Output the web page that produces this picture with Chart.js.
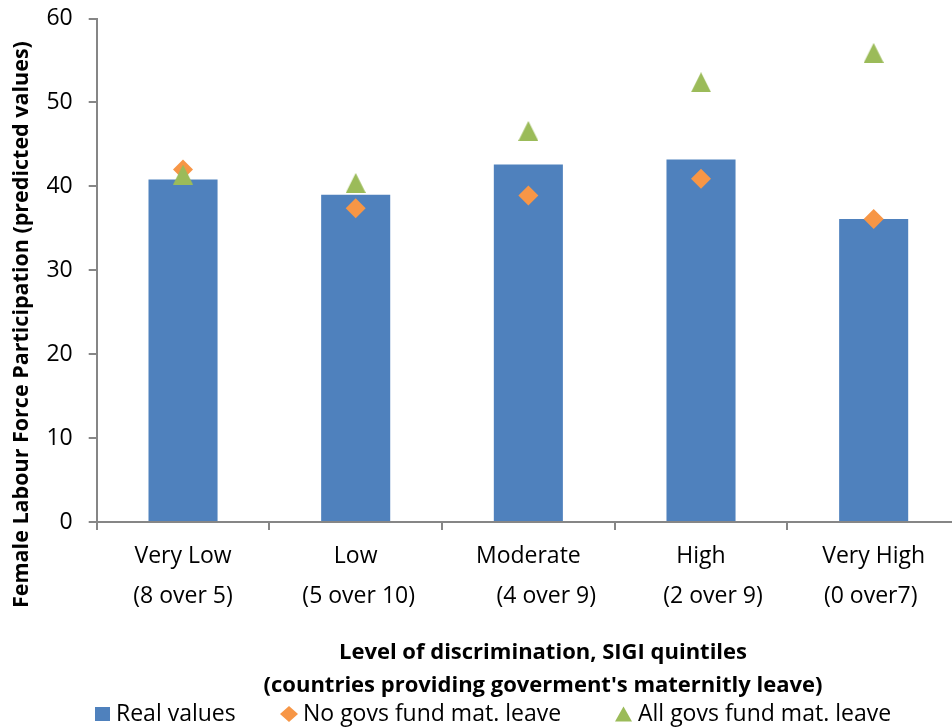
<!DOCTYPE html>
<html>
<head>
<meta charset="utf-8">
<script src="https://cdn.jsdelivr.net/npm/chart.js@4"></script>
<style>
  html, body { margin: 0; padding: 0; background: #fff; overflow: hidden; }
  #wrap { width: 952px; height: 728px; overflow: hidden; position: relative; }
  #c { position: absolute; left: 0; top: 0; }
</style>
</head>
<body>
<div id="wrap"><canvas id="c" width="970" height="728"></canvas></div>
<script>
// SIGI quintiles and the number of countries in each group
const categories = ['Very Low', 'Low', 'Moderate', 'High', 'Very High'];
const countryCounts = ['(8 over 5)', '(5 over 10)', '(4 over 9)', '(2 over 9)', '(0 over7)'];

// Female labour force participation, predicted values
const realValues = [40.8, 39.0, 42.6, 43.2, 36.1];
const noGovsFund = [42.0, 37.4, 38.9, 40.9, 36.1];
const allGovsFund = [41.4, 40.4, 46.6, 52.4, 55.9];

const yTicks = [0, 10, 20, 30, 40, 50, 60];
const seriesNames = ['Real values', 'No govs fund mat. leave', 'All govs fund mat. leave'];
const yTitle = 'Female Labour Force Participation (predicted values)';
const xTitle = ['Level of discrimination, SIGI quintiles', "(countries providing goverment's maternitly leave)"];

const BLUE = '#4F81BD', ORANGE = '#F79646', GREEN = '#9BBB59', AXIS = '#868686';
const FONT = '"Open Sans", sans-serif';

// spaces that nudge the second tick line sideways
const subIndent = [0, 1, 6, 4, 0];
const subTrail = [0, 0, 0, 0, 1];

function triangleMark(color, w, h) {
  const c = document.createElement('canvas');
  c.width = w; c.height = h;
  const g = c.getContext('2d');
  g.fillStyle = color;
  g.beginPath();
  g.moveTo(w / 2, 0); g.lineTo(w, h); g.lineTo(0, h);
  g.closePath(); g.fill();
  return c;
}

// axis titles and legend drawn on top of the chart
const chartTexts = {
  id: 'chartTexts',
  afterDraw(chart) {
    const ctx = chart.ctx;
    const ds = chart.data.datasets;
    ctx.save();
    ctx.fillStyle = '#000';
    ctx.textAlign = 'center';
    ctx.textBaseline = 'middle';
    ctx.font = 'bold 22px ' + FONT;
    ctx.fillText(xTitle[0], 543, 653);
    ctx.fillText(xTitle[1], 543, 686);

    // vertical title, reading upwards from its first letter
    ctx.font = 'bold 21.5px ' + FONT;
    ctx.save();
    ctx.translate(22, 608);
    ctx.rotate(-Math.PI / 2);
    ctx.textAlign = 'left';
    ctx.fillText(yTitle, 0, 0);
    ctx.restore();

    // legend
    ctx.font = '23px ' + FONT;
    ctx.textAlign = 'left';
    const ly = 714;
    ctx.fillStyle = ds[0].backgroundColor;
    ctx.fillRect(95, 707, 15, 14);
    ctx.fillStyle = ds[1].backgroundColor;
    ctx.beginPath();
    ctx.moveTo(289, ly - 8); ctx.lineTo(298, ly); ctx.lineTo(289, ly + 8); ctx.lineTo(280, ly);
    ctx.closePath(); ctx.fill();
    ctx.fillStyle = ds[2].backgroundColor;
    ctx.beginPath();
    ctx.moveTo(623.5, ly - 7.5); ctx.lineTo(632, ly + 7.5); ctx.lineTo(615, ly + 7.5);
    ctx.closePath(); ctx.fill();
    ctx.fillStyle = '#000';
    ctx.fillText(ds[0].label, 116, ly);
    ctx.fillText(ds[1].label, 303, ly);
    ctx.fillText(ds[2].label, 638, ly);
    ctx.restore();
  }
};

new Chart(document.getElementById('c'), {
  type: 'bar',
  data: {
    labels: categories,
    datasets: [
      {
        label: seriesNames[0],
        data: realValues,
        backgroundColor: BLUE,
        barPercentage: 0.4,
        categoryPercentage: 1,
        order: 3
      },
      {
        type: 'line',
        label: seriesNames[1],
        data: noGovsFund,
        showLine: false,
        pointStyle: 'rectRot',
        pointRadius: 10,
        pointHoverRadius: 10,
        pointBorderWidth: 0,
        backgroundColor: ORANGE,
        borderColor: ORANGE,
        order: 2
      },
      {
        type: 'line',
        label: seriesNames[2],
        data: allGovsFund,
        showLine: false,
        pointStyle: triangleMark(GREEN, 20, 20),
        pointRadius: 10,
        pointHoverRadius: 10,
        pointBorderWidth: 0,
        backgroundColor: GREEN,
        borderColor: GREEN,
        order: 1
      }
    ]
  },
  options: {
    responsive: false,
    animation: false,
    events: [],
    layout: { padding: { left: 40.7, right: 10, top: 18.5, bottom: 100 } },
    scales: {
      x: {
        offset: true,
        afterFit(s) { s.height = 106; },
        grid: {
          offset: true,
          drawOnChartArea: false,
          tickLength: 8,
          color: AXIS,
          lineWidth: 2
        },
        border: { color: AXIS, width: 2 },
        ticks: {
          color: '#000',
          font: { family: FONT, size: 23, lineHeight: 1.74 },
          padding: 6,
          maxRotation: 0,
          autoSkip: false,
          callback(value, i) {
            return [categories[i], ' '.repeat(subIndent[i]) + countryCounts[i] + ' '.repeat(subTrail[i])];
          }
        }
      },
      y: {
        min: yTicks[0],
        max: yTicks[yTicks.length - 1],
        afterFit(s) {
          s.width = 56;
          s.paddingTop = 0;
          s.paddingBottom = 0;
        },
        afterBuildTicks(s) { s.ticks = yTicks.map(v => ({ value: v })); },
        grid: {
          drawOnChartArea: false,
          tickLength: 8,
          color: AXIS,
          lineWidth: 2
        },
        border: { color: AXIS, width: 2 },
        ticks: {
          color: '#000',
          font: { family: FONT, size: 23 },
          padding: 16
        }
      }
    },
    plugins: {
      legend: { display: false },
      tooltip: { enabled: false }
    }
  },
  plugins: [chartTexts]
});
</script>
</body>
</html>
